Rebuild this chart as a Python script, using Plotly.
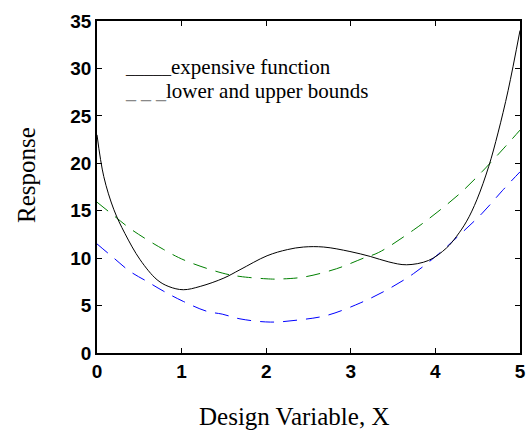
import plotly.graph_objects as go

# expensive function (black, solid)
x_f = [0.0, 0.08, 0.2, 0.33, 0.51, 0.71, 0.85, 1.02, 1.22, 1.5, 1.69, 2.01, 2.25, 2.44, 2.68, 2.99, 3.23, 3.45, 3.66, 3.92, 4.13, 4.25, 4.37, 4.49, 4.63, 4.74, 4.86, 5.0]
y_f = [23.0, 18.6, 15.1, 12.6, 9.83, 7.72, 7.0, 6.67, 7.02, 7.9, 8.78, 10.25, 10.9, 11.17, 11.17, 10.7, 10.18, 9.6, 9.3, 9.76, 11.06, 12.3, 13.9, 16.15, 19.66, 23.2, 27.7, 34.0]

# upper bound (green, dashed)
x_u = [0.0, 0.2, 0.41, 0.79, 1.04, 1.48, 1.69, 2.05, 2.16, 2.44, 2.83, 3.15, 3.33, 3.74, 4.03, 4.3, 4.55, 4.81, 5.0]
y_u = [15.9, 14.47, 13.0, 10.9, 9.76, 8.43, 8.07, 7.8, 7.8, 8.0, 8.88, 10.0, 10.6, 12.96, 14.9, 16.9, 19.1, 21.6, 23.5]

# lower bound (blue, dashed)
x_l = [0.0, 0.2, 0.39, 0.59, 0.79, 1.02, 1.3, 1.48, 1.69, 2.05, 2.4, 2.72, 3.11, 3.43, 3.74, 4.04, 4.3, 4.555, 4.79, 5.0]
y_l = [11.5, 10.0, 8.6, 7.55, 6.5, 5.44, 4.39, 4.1, 3.6, 3.26, 3.5, 3.97, 5.27, 6.67, 8.36, 10.46, 12.57, 14.75, 17.1, 19.1]

x_ticks = [0, 1, 2, 3, 4, 5]
y_ticks = [0, 5, 10, 15, 20, 25, 30, 35]

legend_labels = ["expensive function", "lower and upper bounds"]
x_title = "Design Variable, X"
y_title = "Response"

fig = go.Figure()
fig.add_trace(go.Scatter(x=x_u, y=y_u, mode="lines", line=dict(color="#008000", width=1, dash="14px,9px", shape="spline"), showlegend=False))
fig.add_trace(go.Scatter(x=x_l, y=y_l, mode="lines", line=dict(color="#0000ff", width=1, dash="14px,9px", shape="spline"), showlegend=False))
fig.add_trace(go.Scatter(x=x_f, y=y_f, mode="lines", line=dict(color="black", width=1, shape="spline"), showlegend=False))

serif = "Liberation Serif"
sans = "Liberation Sans"

fig.add_annotation(xref="paper", yref="paper", x=0.062, y=0.862, xanchor="left", yanchor="middle",
                   showarrow=False, align="left",
                   text='<span style="color:#222;font-size:18px">_____</span>' + legend_labels[0],
                   font=dict(family=serif, size=21, color="black"))
fig.add_annotation(xref="paper", yref="paper", x=0.062, y=0.79, xanchor="left", yanchor="middle",
                   showarrow=False, align="left",
                   text='<span style="color:#888;font-size:20px">_ _ _</span>' + legend_labels[1],
                   font=dict(family=serif, size=21, color="black"))

fig.add_annotation(xref="paper", yref="paper", x=0.466, y=-0.192, xanchor="center", yanchor="middle",
                   showarrow=False, text=x_title, font=dict(family=serif, size=25, color="black"))
fig.add_annotation(xref="paper", yref="paper", x=-0.165, y=0.537, xanchor="center", yanchor="middle",
                   showarrow=False, textangle=-90, text=y_title, font=dict(family=serif, size=25, color="black"))

axis_common = dict(showline=True, linecolor="black", linewidth=1.5, mirror="ticks",
                   ticks="inside", ticklen=5, tickcolor="black", tickwidth=1,
                   showgrid=False, zeroline=False, automargin=False,
                   tickfont=dict(family=sans, size=19, color="black", weight="bold"))

fig.update_layout(
    width=526, height=434,
    margin=dict(l=97, r=6, t=21, b=81),
    paper_bgcolor="white", plot_bgcolor="white",
    xaxis=dict(range=[0, 5], tickvals=x_ticks, **axis_common),
    yaxis=dict(range=[0, 35], tickvals=y_ticks, **axis_common),
)

fig.write_html("out.html")
